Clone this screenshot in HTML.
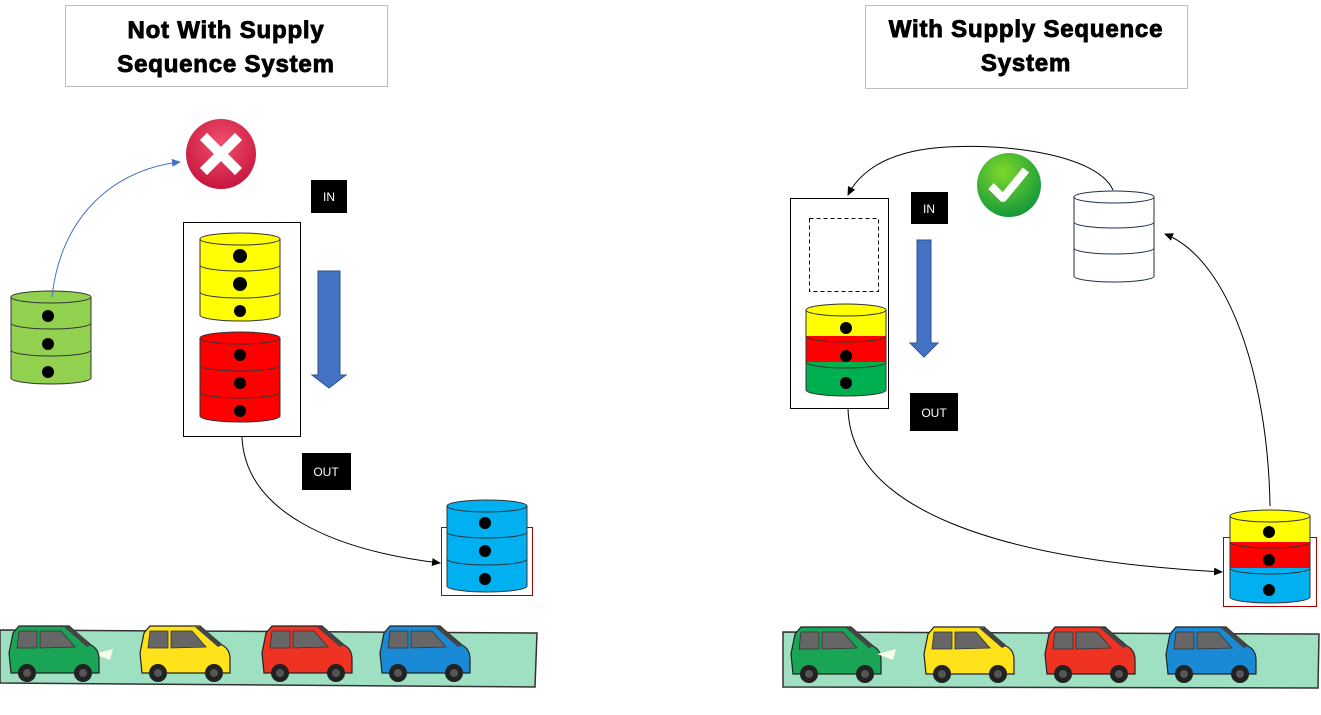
<!DOCTYPE html>
<html><head><meta charset="utf-8"><style>
html,body{margin:0;padding:0;background:#fff;}
svg{display:block}
text{font-family:"Liberation Sans",Arial,sans-serif}
.t{font-size:24px;font-weight:bold;stroke:#000;stroke-width:0.9px;letter-spacing:0.8px}
</style></head><body>
<svg width="1321" height="715" viewBox="0 0 1321 715" xmlns="http://www.w3.org/2000/svg">
<defs>
<marker id="ab" markerWidth="10" markerHeight="10" refX="8" refY="5" orient="auto" markerUnits="userSpaceOnUse"><path d="M0,1 L9,5 L0,9 z" fill="#4472c4"/></marker>
<marker id="ak" markerWidth="10" markerHeight="10" refX="8" refY="5" orient="auto" markerUnits="userSpaceOnUse"><path d="M0,1 L9,5 L0,9 z" fill="#000"/></marker>
<radialGradient id="rg" cx="50%" cy="35%" r="65%"><stop offset="0" stop-color="#f0506e"/><stop offset="1" stop-color="#c8163e"/></radialGradient>
<radialGradient id="gg" cx="40%" cy="30%" r="70%"><stop offset="0" stop-color="#7fd82a"/><stop offset="1" stop-color="#159a3a"/></radialGradient>
<g id="car">
<path d="M4,10 L10,3 L60,3 L82,22 Q90,26 90,36 L90,50 L2,50 L0,30 Z" stroke="#222" stroke-width="1.2"/>
<path d="M10,8 L28,8 L28,25 L8,25 Z M31,8 L52,8 L66,24 L31,25 Z" fill="#666" stroke="#333" stroke-width="0.8"/>
<path d="M55,4 L62,4 L82,22 L78,24 Z" fill="#444"/>
<circle cx="18" cy="50" r="9" fill="#222"/><circle cx="18" cy="50" r="4" fill="#555"/>
<circle cx="74" cy="50" r="9" fill="#222"/><circle cx="74" cy="50" r="4" fill="#555"/>
</g>
</defs>

<rect x="65.5" y="5.5" width="322" height="81" fill="#fff" stroke="#bfbfbf"/>
<text class="t" x="226" y="38" text-anchor="middle">Not With Supply</text>
<text class="t" x="226" y="72" text-anchor="middle">Sequence System</text>
<rect x="865.5" y="5.5" width="322" height="83" fill="#fff" stroke="#bfbfbf"/>
<text class="t" x="1026" y="37" text-anchor="middle">With Supply Sequence</text>
<text class="t" x="1026" y="71" text-anchor="middle">System</text>

<circle cx="221" cy="154" r="35" fill="url(#rg)"/>
<path d="M207,140 L235,168 M235,140 L207,168" stroke="#fff" stroke-width="10" stroke-linecap="square"/>
<circle cx="1009" cy="185" r="32" fill="url(#gg)"/>
<path d="M991,186 L1003,198 L1026,170" stroke="#fff" stroke-width="8" fill="none" stroke-linejoin="round"/>

<rect x="311" y="180" width="36" height="33" fill="#000"/><text x="329" y="201" font-size="12" fill="#fff" text-anchor="middle">IN</text>
<rect x="302" y="453" width="49" height="37" fill="#000"/><text x="326" y="476" font-size="12" fill="#fff" text-anchor="middle">OUT</text>
<rect x="911" y="192" width="37" height="32" fill="#000"/><text x="929" y="213" font-size="12" fill="#fff" text-anchor="middle">IN</text>
<rect x="910" y="393" width="48" height="38" fill="#000"/><text x="934" y="417" font-size="12" fill="#fff" text-anchor="middle">OUT</text>

<path d="M318,271 L318,375 L312,375 L329,388 L346,375 L340,375 L340,271 Z" fill="#4472c4" stroke="#2f528f"/>
<path d="M917,240 L917,343 L910,343 L924,357 L938,343 L931,343 L931,240 Z" fill="#4472c4" stroke="#2f528f"/>

<rect x="183.5" y="222.5" width="117" height="214" fill="#fff" stroke="#000"/>
<rect x="790.5" y="198.5" width="98" height="210" fill="#fff" stroke="#000"/>
<rect x="809.5" y="218.5" width="69" height="73" fill="none" stroke="#000" stroke-dasharray="4,3"/>
<rect x="441.5" y="527.5" width="91" height="68" fill="none" stroke="#a00"/>
<rect x="1223.5" y="537.5" width="93" height="69" fill="none" stroke="#a00"/>

<g stroke="#333" stroke-width="1">
<g fill="#92d050">
<ellipse cx="51" cy="378" rx="40" ry="6"/><rect x="11" y="350" width="80" height="28" stroke="none"/><line x1="11" y1="350" x2="11" y2="378"/><line x1="91" y1="350" x2="91" y2="378"/><ellipse cx="51" cy="350" rx="40" ry="6"/>
<rect x="11" y="323" width="80" height="27" stroke="none"/><line x1="11" y1="323" x2="11" y2="350"/><line x1="91" y1="323" x2="91" y2="350"/><ellipse cx="51" cy="323" rx="40" ry="6"/>
<rect x="11" y="297" width="80" height="26" stroke="none"/><line x1="11" y1="297" x2="11" y2="323"/><line x1="91" y1="297" x2="91" y2="323"/><ellipse cx="51" cy="297" rx="40" ry="6"/>
</g>
<g fill="#ffff00">
<ellipse cx="240" cy="315" rx="40" ry="6"/><rect x="200" y="292" width="80" height="23" stroke="none"/><line x1="200" y1="292" x2="200" y2="315"/><line x1="280" y1="292" x2="280" y2="315"/><ellipse cx="240" cy="292" rx="40" ry="6"/>
<rect x="200" y="265" width="80" height="27" stroke="none"/><line x1="200" y1="265" x2="200" y2="292"/><line x1="280" y1="265" x2="280" y2="292"/><ellipse cx="240" cy="265" rx="40" ry="6"/>
<rect x="200" y="239" width="80" height="26" stroke="none"/><line x1="200" y1="239" x2="200" y2="265"/><line x1="280" y1="239" x2="280" y2="265"/><ellipse cx="240" cy="239" rx="40" ry="6"/>
</g>
<g fill="#ff0000">
<ellipse cx="240" cy="416" rx="40" ry="6"/><rect x="200" y="392" width="80" height="24" stroke="none"/><line x1="200" y1="392" x2="200" y2="416"/><line x1="280" y1="392" x2="280" y2="416"/><ellipse cx="240" cy="392" rx="40" ry="6"/>
<rect x="200" y="365" width="80" height="27" stroke="none"/><line x1="200" y1="365" x2="200" y2="392"/><line x1="280" y1="365" x2="280" y2="392"/><ellipse cx="240" cy="365" rx="40" ry="6"/>
<rect x="200" y="338" width="80" height="27" stroke="none"/><line x1="200" y1="338" x2="200" y2="365"/><line x1="280" y1="338" x2="280" y2="365"/><ellipse cx="240" cy="338" rx="40" ry="6"/>
</g>
<g fill="#00b0f0">
<ellipse cx="487" cy="586" rx="40" ry="6"/><rect x="447" y="559" width="80" height="27" stroke="none"/><line x1="447" y1="559" x2="447" y2="586"/><line x1="527" y1="559" x2="527" y2="586"/><ellipse cx="487" cy="559" rx="40" ry="6"/>
<rect x="447" y="532" width="80" height="27" stroke="none"/><line x1="447" y1="532" x2="447" y2="559"/><line x1="527" y1="532" x2="527" y2="559"/><ellipse cx="487" cy="532" rx="40" ry="6"/>
<rect x="447" y="506" width="80" height="26" stroke="none"/><line x1="447" y1="506" x2="447" y2="532"/><line x1="527" y1="506" x2="527" y2="532"/><ellipse cx="487" cy="506" rx="40" ry="6"/>
</g>
<ellipse cx="846" cy="390" rx="40" ry="6" fill="#00b050"/><rect x="806" y="362" width="80" height="28" fill="#00b050" stroke="none"/><line x1="806" y1="362" x2="806" y2="390"/><line x1="886" y1="362" x2="886" y2="390"/><ellipse cx="846" cy="362" rx="40" ry="6" fill="#00b050"/>
<rect x="806" y="336" width="80" height="26" fill="#ff0000" stroke="none"/><line x1="806" y1="336" x2="806" y2="362"/><line x1="886" y1="336" x2="886" y2="362"/><ellipse cx="846" cy="336" rx="40" ry="6" fill="#ff0000"/>
<rect x="806" y="310" width="80" height="26" fill="#ffff00" stroke="none"/><line x1="806" y1="310" x2="806" y2="336"/><line x1="886" y1="310" x2="886" y2="336"/><ellipse cx="846" cy="310" rx="40" ry="6" fill="#ffff00"/>
<g fill="#fff" stroke="#1f2d4d">
<ellipse cx="1114" cy="276" rx="40" ry="6"/><rect x="1074" y="248" width="80" height="28" stroke="none"/><line x1="1074" y1="248" x2="1074" y2="276"/><line x1="1154" y1="248" x2="1154" y2="276"/><ellipse cx="1114" cy="248" rx="40" ry="6"/>
<rect x="1074" y="222" width="80" height="26" stroke="none"/><line x1="1074" y1="222" x2="1074" y2="248"/><line x1="1154" y1="222" x2="1154" y2="248"/><ellipse cx="1114" cy="222" rx="40" ry="6"/>
<rect x="1074" y="197" width="80" height="25" stroke="none"/><line x1="1074" y1="197" x2="1074" y2="222"/><line x1="1154" y1="197" x2="1154" y2="222"/><ellipse cx="1114" cy="197" rx="40" ry="6"/>
</g>
<ellipse cx="1270" cy="597" rx="40" ry="6" fill="#00b0f0"/><rect x="1230" y="568" width="80" height="29" fill="#00b0f0" stroke="none"/><line x1="1230" y1="568" x2="1230" y2="597"/><line x1="1310" y1="568" x2="1310" y2="597"/><ellipse cx="1270" cy="568" rx="40" ry="6" fill="#00b0f0"/>
<rect x="1230" y="542" width="80" height="26" fill="#ff0000" stroke="none"/><line x1="1230" y1="542" x2="1230" y2="568"/><line x1="1310" y1="542" x2="1310" y2="568"/><ellipse cx="1270" cy="542" rx="40" ry="6" fill="#ff0000"/>
<rect x="1230" y="516" width="80" height="26" fill="#ffff00" stroke="none"/><line x1="1230" y1="516" x2="1230" y2="542"/><line x1="1310" y1="516" x2="1310" y2="542"/><ellipse cx="1270" cy="516" rx="40" ry="6" fill="#ffff00"/>
</g>
<g fill="#000">
<circle cx="48" cy="316" r="6"/><circle cx="48" cy="344" r="6"/><circle cx="48" cy="372" r="6"/>
<circle cx="240" cy="256" r="7"/><circle cx="240" cy="284" r="7"/><circle cx="240" cy="311" r="6"/>
<circle cx="240" cy="355" r="6"/><circle cx="240" cy="383" r="6"/><circle cx="240" cy="411" r="6"/>
<circle cx="485" cy="523" r="6"/><circle cx="485" cy="551" r="6"/><circle cx="485" cy="579" r="6"/>
<circle cx="846" cy="328" r="6"/><circle cx="846" cy="356" r="6"/><circle cx="846" cy="383" r="6"/>
<circle cx="1269" cy="532" r="6"/><circle cx="1269" cy="560" r="6"/><circle cx="1269" cy="590" r="6"/>
</g>

<path d="M52,297 C60,220 110,170 180,162" fill="none" stroke="#4472c4" stroke-width="1" marker-end="url(#ab)"/>
<path d="M242,437 C245,510 330,550 440,563" fill="none" stroke="#000" stroke-width="1" marker-end="url(#ak)"/>
<path d="M1113,190 C1095,150 980,140 920,150 C880,157 858,175 848,195" fill="none" stroke="#000" stroke-width="1" marker-end="url(#ak)"/>
<path d="M848,408 C850,510 1000,560 1222,572" fill="none" stroke="#000" stroke-width="1" marker-end="url(#ak)"/>
<path d="M1270,506 C1268,380 1230,260 1165,234" fill="none" stroke="#000" stroke-width="1" marker-end="url(#ak)"/>

<path d="M0,630 L537,633 L535,687 L0,683 Z" fill="#9ee0c1" stroke="#333" stroke-width="1.5"/>
<path d="M783,632 L1319,634 L1318,688 L783,687 Z" fill="#9ee0c1" stroke="#333" stroke-width="1.5"/>
<path d="M94,654 L113,649 L110,660 Z" fill="#f4fbe6"/>

<use href="#car" x="9" y="623" fill="#1aa556"/>
<use href="#car" x="140" y="623" fill="#ffe21a"/>
<use href="#car" x="262" y="623" fill="#ee3322"/>
<use href="#car" x="380" y="623" fill="#1a8ad6"/>
<use href="#car" x="791" y="624" fill="#1aa556"/>
<use href="#car" x="924" y="624" fill="#ffe21a"/>
<use href="#car" x="1045" y="624" fill="#ee3322"/>
<use href="#car" x="1166" y="624" fill="#1a8ad6"/>
<path d="M877,654 L896,649 L893,660 Z" fill="#f4fbe6"/>
</svg>
</body></html>
